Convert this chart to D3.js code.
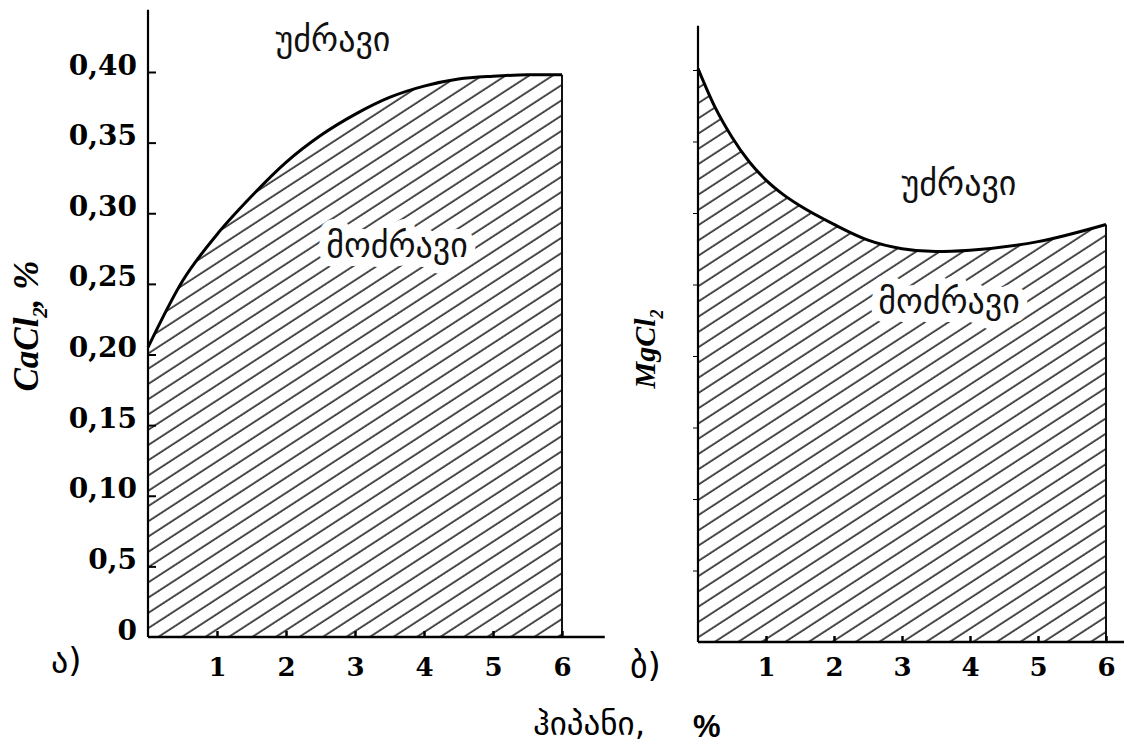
<!DOCTYPE html>
<html><head><meta charset="utf-8">
<script src="https://cdn.jsdelivr.net/npm/d3@7"></script>
<style>body{margin:0;background:#fff} svg{display:block}</style>
</head><body><svg id="c" width="1124" height="746"></svg>
<script>
// ---- data ----
const hipaniTicks = [1, 2, 3, 4, 5, 6];
const caTicks = [0, 0.05, 0.10, 0.15, 0.20, 0.25, 0.30, 0.35, 0.40];
const caTickLabels = ["0", "0,5", "0,10", "0,15", "0,20", "0,25", "0,30", "0,35", "0,40"];
const caX = [0, 0.5, 1, 1.5, 2, 2.5, 3, 3.5, 4, 4.5, 5, 5.5, 6];
const caY = [0.205, 0.252, 0.285, 0.312, 0.336, 0.355, 0.370, 0.382, 0.390, 0.395, 0.397, 0.398, 0.398];
const mgX = [0, 0.25, 0.5, 0.75, 1, 1.25, 1.5, 2, 2.5, 3, 3.5, 4, 5, 6];
const mgY = [0.401, 0.374, 0.353, 0.336, 0.323, 0.313, 0.305, 0.292, 0.281, 0.275, 0.273, 0.274, 0.280, 0.292];
const regionLabels = ["უძრავი", "მოძრავი"];
const panelLabels = ["ა)", "ბ)"];
const xTitle = "ჰიპანი,";
const xTitleUnit = "%";

const svg = d3.select("#c");
const defs = svg.append("defs");
const pat = defs.append("pattern").attr("id", "hatch")
  .attr("patternUnits", "userSpaceOnUse").attr("width", 20).attr("height", 12.8)
  .attr("patternTransform", "rotate(-33)");
pat.append("line").attr("x1", 0).attr("x2", 20).attr("y1", 6).attr("y2", 6)
  .attr("stroke", "#111").attr("stroke-width", 1.5);

const geoFont = "'DejaVu Sans', sans-serif";
const numFont = "'DejaVu Serif', serif";

function panel(opts) {
  const { x, y, xs, ys, yTop, xEnd, showLabels } = opts;
  const g = svg.append("g");
  const pts = xs.map((d, i) => [d, ys[i]]);
  const area = d3.area().x(d => x(d[0])).y0(y(0)).y1(d => y(d[1])).curve(d3.curveMonotoneX);
  const line = d3.line().x(d => x(d[0])).y(d => y(d[1])).curve(d3.curveMonotoneX);
  g.append("path").attr("d", area(pts)).attr("fill", "url(#hatch)");
  g.append("line").attr("x1", x(6)).attr("x2", x(6)).attr("y1", y(0)).attr("y2", y(ys[ys.length - 1]))
    .attr("stroke", "#111").attr("stroke-width", 2);
  g.append("text").attr("x", opts.movX).attr("y", opts.movY).attr("text-anchor", "middle")
    .attr("font-family", geoFont).attr("font-size", 34)
    .attr("stroke", "#fff").attr("stroke-width", 18).attr("paint-order", "stroke")
    .attr("stroke-linejoin", "round").attr("fill", "#111").text(regionLabels[1]);
  g.append("text").attr("x", opts.fixX).attr("y", opts.fixY).attr("text-anchor", "middle")
    .attr("font-family", geoFont).attr("font-size", 34).attr("fill", "#111").text(regionLabels[0]);
  g.append("path").attr("d", line(pts)).attr("fill", "none").attr("stroke", "#000").attr("stroke-width", 3);
  g.append("line").attr("x1", x(0)).attr("x2", x(0)).attr("y1", y(0)).attr("y2", y(yTop))
    .attr("stroke", "#000").attr("stroke-width", 2.2);
  g.append("line").attr("x1", x(0)).attr("x2", x(xEnd)).attr("y1", y(0)).attr("y2", y(0))
    .attr("stroke", "#000").attr("stroke-width", 2.5);
  const ax = g.append("g").attr("transform", `translate(0,${y(0)})`)
    .call(d3.axisBottom(x).tickValues(hipaniTicks).tickSize(-6).tickSizeOuter(0).tickFormat(d3.format("d")));
  ax.select(".domain").remove();
  ax.selectAll(".tick line").attr("stroke", "#000").attr("stroke-width", 2.5);
  ax.selectAll(".tick text").attr("y", opts.xLabBase - y(0)).attr("dy", 0)
    .attr("font-family", numFont).attr("font-weight", "bold").attr("font-size", 26).attr("fill", "#000");
  const ay = g.append("g").attr("transform", `translate(${x(0)},0)`)
    .call(d3.axisLeft(y).tickValues(caTicks).tickSizeOuter(0)
      .tickSize(showLabels ? -8 : 5).tickPadding(11)
      .tickFormat((d, i) => showLabels ? caTickLabels[i] : ""));
  ay.select(".domain").remove();
  ay.selectAll(".tick line").attr("stroke", "#000").attr("stroke-width", showLabels ? 2 : 1);
  ay.selectAll(".tick text").attr("y", 2).attr("dy", 0)
    .attr("font-family", numFont).attr("font-weight", "bold").attr("font-size", 28).attr("fill", "#000");
  ay.selectAll(".tick").filter(d => d === 0).select("line").remove();
  return g;
}

const xA = d3.scaleLinear([0, 6], [148, 562]);
const yA = d3.scaleLinear([0, 0.40], [637, 72]);
const xB = d3.scaleLinear([0, 6], [698, 1106]);
const yB = d3.scaleLinear([0, 0.40], [642, 70]);

panel({ x: xA, y: yA, xs: caX, ys: caY, yTop: 0.444, xEnd: 6.62, showLabels: true,
  movX: 397, movY: 257, fixX: 333, fixY: 51, xLabBase: 676 });
panel({ x: xB, y: yB, xs: mgX, ys: mgY, yTop: 0.431, xEnd: 6.6, showLabels: false,
  movX: 949, movY: 313, fixX: 959, fixY: 195, xLabBase: 676 });

function yTitle(tx, ty, size, main, sub, rest) {
  const t = svg.append("text").attr("transform", `translate(${tx},${ty}) rotate(-90)`)
    .attr("text-anchor", "middle").attr("font-family", "'Liberation Serif', serif")
    .attr("font-style", "italic").attr("font-weight", "bold").attr("font-size", size).attr("fill", "#000");
  t.append("tspan").text(main);
  t.append("tspan").attr("font-size", size * 0.6).attr("dy", size * 0.25).text(sub);
  if (rest) t.append("tspan").attr("dy", -size * 0.25).text(rest);
}
yTitle(38, 326, 35, "CaCl", "2", ", %");
yTitle(655, 349, 30, "MgCl", "2", null);

svg.append("text").attr("x", 51).attr("y", 672).attr("font-family", geoFont).attr("font-size", 34)
  .attr("fill", "#000").text(panelLabels[0]);
svg.append("text").attr("x", 630).attr("y", 677).attr("font-family", geoFont).attr("font-size", 34)
  .attr("fill", "#000").text(panelLabels[1]);

svg.append("text").attr("x", 533).attr("y", 735).attr("font-family", geoFont).attr("font-size", 33)
  .attr("fill", "#000").text(xTitle);
svg.append("text").attr("x", 693).attr("y", 737).attr("font-family", "'Liberation Sans', sans-serif")
  .attr("font-weight", "bold").attr("font-size", 31).attr("fill", "#000").text(xTitleUnit);
</script></body></html>
